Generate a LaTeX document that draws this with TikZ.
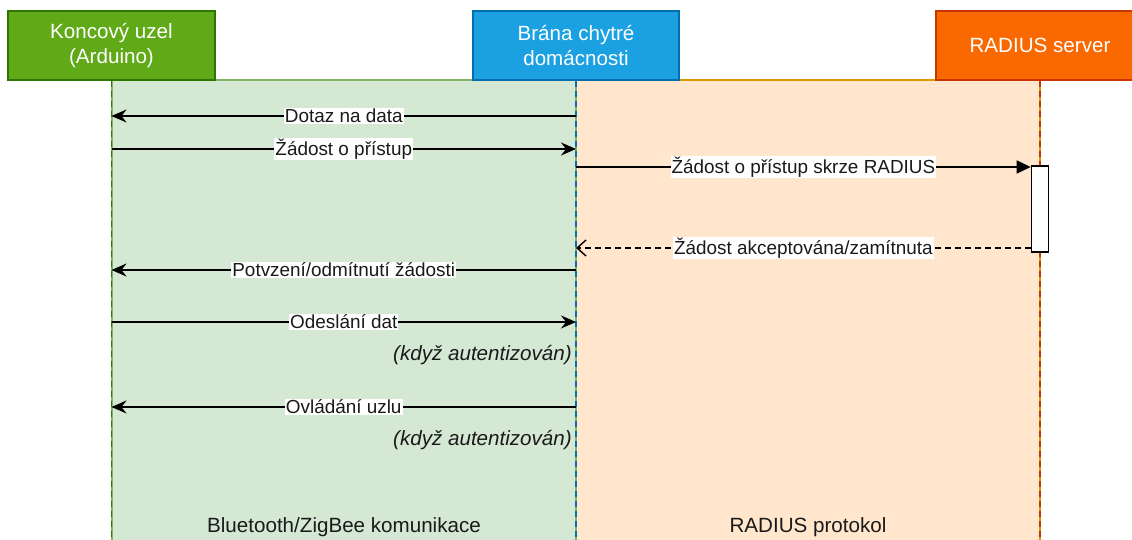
\documentclass[tikz,border=0pt]{standalone}
\usepackage{fontspec}
\setmainfont{Liberation Sans}
\usetikzlibrary{arrows.meta}
\definecolor{hgreen}{HTML}{60A917}
\definecolor{hgreenD}{HTML}{2D7600}
\definecolor{hblue}{HTML}{1BA1E2}
\definecolor{hblueD}{HTML}{006EAF}
\definecolor{horange}{HTML}{FA6800}
\definecolor{horangeD}{HTML}{C73500}
\definecolor{rgreen}{HTML}{D5E8D4}
\definecolor{rgreenD}{HTML}{82B366}
\definecolor{rorange}{HTML}{FFE6CC}
\definecolor{rorangeD}{HTML}{D79B00}
\definecolor{txt}{HTML}{1A1A1A}
\begin{document}
\begin{tikzpicture}[x=1pt,y=-1pt,
  head/.style={line width=1.6pt, text=white, align=center, inner sep=0pt,
    minimum height=69pt, font=\fontsize{20.6}{25}\selectfont},
  life/.style={line width=1.6pt, dash pattern=on 6pt off 4pt},
  msg/.style={line width=1.6pt, draw=black},
  sync/.style={msg, -{Stealth[length=15pt,width=13pt,inset=5pt]}},
  call/.style={msg, -{Triangle[length=14pt,width=13pt]}},
  ret/.style={msg, dash pattern=on 6pt off 4pt, -{Straight Barb[length=9pt,width=16pt,line width=1.4pt]}},
  lbl/.style={fill=white, inner sep=1pt, text=txt, font=\fontsize{18.9}{22}\selectfont},
  note/.style={text=txt, inner sep=0pt, font=\fontsize{20.6}{24}\selectfont\itshape},
  region/.style={text=txt, inner sep=0pt, font=\fontsize{20.6}{24}\selectfont}]
\useasboundingbox (0,0) rectangle (1132,540);
\fill[white] (0,0) rectangle (1132,540);
% regions
\fill[rgreen] (112,80) rectangle (576,545);
\fill[rorange] (576,80) rectangle (1040,545);
\draw[rgreenD, line width=1.6pt] (112,545) -- (112,80) -- (576,80) -- (576,545);
\draw[rorangeD, line width=1.6pt] (576,80) -- (1040,80) -- (1040,545);
% headers
\node[head, fill=hgreen, draw=hgreenD, minimum width=207pt] (g) at (111.5,45.5) {Koncový uzel\\(Arduino)};
\node[head, fill=hblue, draw=hblueD, minimum width=206pt] (b) at (576,45.5) {Brána chytré\\domácnosti};
\node[head, fill=horange, draw=horangeD, minimum width=208pt] (r) at (1040,45.5) {RADIUS server};
% lifeline ends
\coordinate (gE) at (111.5,545);
\coordinate (bE) at (576,545);
\coordinate (rE) at (1040,545);
\draw[life, hgreenD] (g.south) -- (gE);
\draw[life, hblueD] (b.south) -- (bE);
\draw[life, horangeD] (r.south) -- (rE);
% activation
\node[draw=black, fill=white, line width=1.6pt, minimum width=17pt, minimum height=86pt, inner sep=0pt] (act) at (1040,209) {};
% messages
\draw[sync] (b.south |- 0,116) -- node[lbl]{Dotaz na data} (g.south |- 0,116);
\draw[sync] (g.south |- 0,149) -- node[lbl]{Žádost o přístup} (b.south |- 0,149);
\draw[call] (b.south |- 0,167) -- node[lbl]{Žádost o přístup skrze RADIUS} (act.west |- 0,167);
\draw[ret] (act.west |- 0,248) -- node[lbl]{Žádost akceptována/zamítnuta} (b.south |- 0,248);
\draw[sync] (b.south |- 0,270) -- node[lbl]{Potvzení/odmítnutí žádosti} (g.south |- 0,270);
\draw[sync] (g.south |- 0,322) -- node[lbl]{Odeslání dat} (b.south |- 0,322);
\node[note, anchor=east] (n1) at (572,355) {(když autentizován)};
\draw[sync] (b.south |- 0,407) -- node[lbl]{Ovládání uzlu} (g.south |- 0,407);
\node[note, anchor=east] (n2) at (572,440) {(když autentizován)};
% region labels
\node[region] (lg) at (344,527) {Bluetooth/ZigBee komunikace};
\node[region] (lr) at (808,527) {RADIUS protokol};
\end{tikzpicture}
\end{document}
